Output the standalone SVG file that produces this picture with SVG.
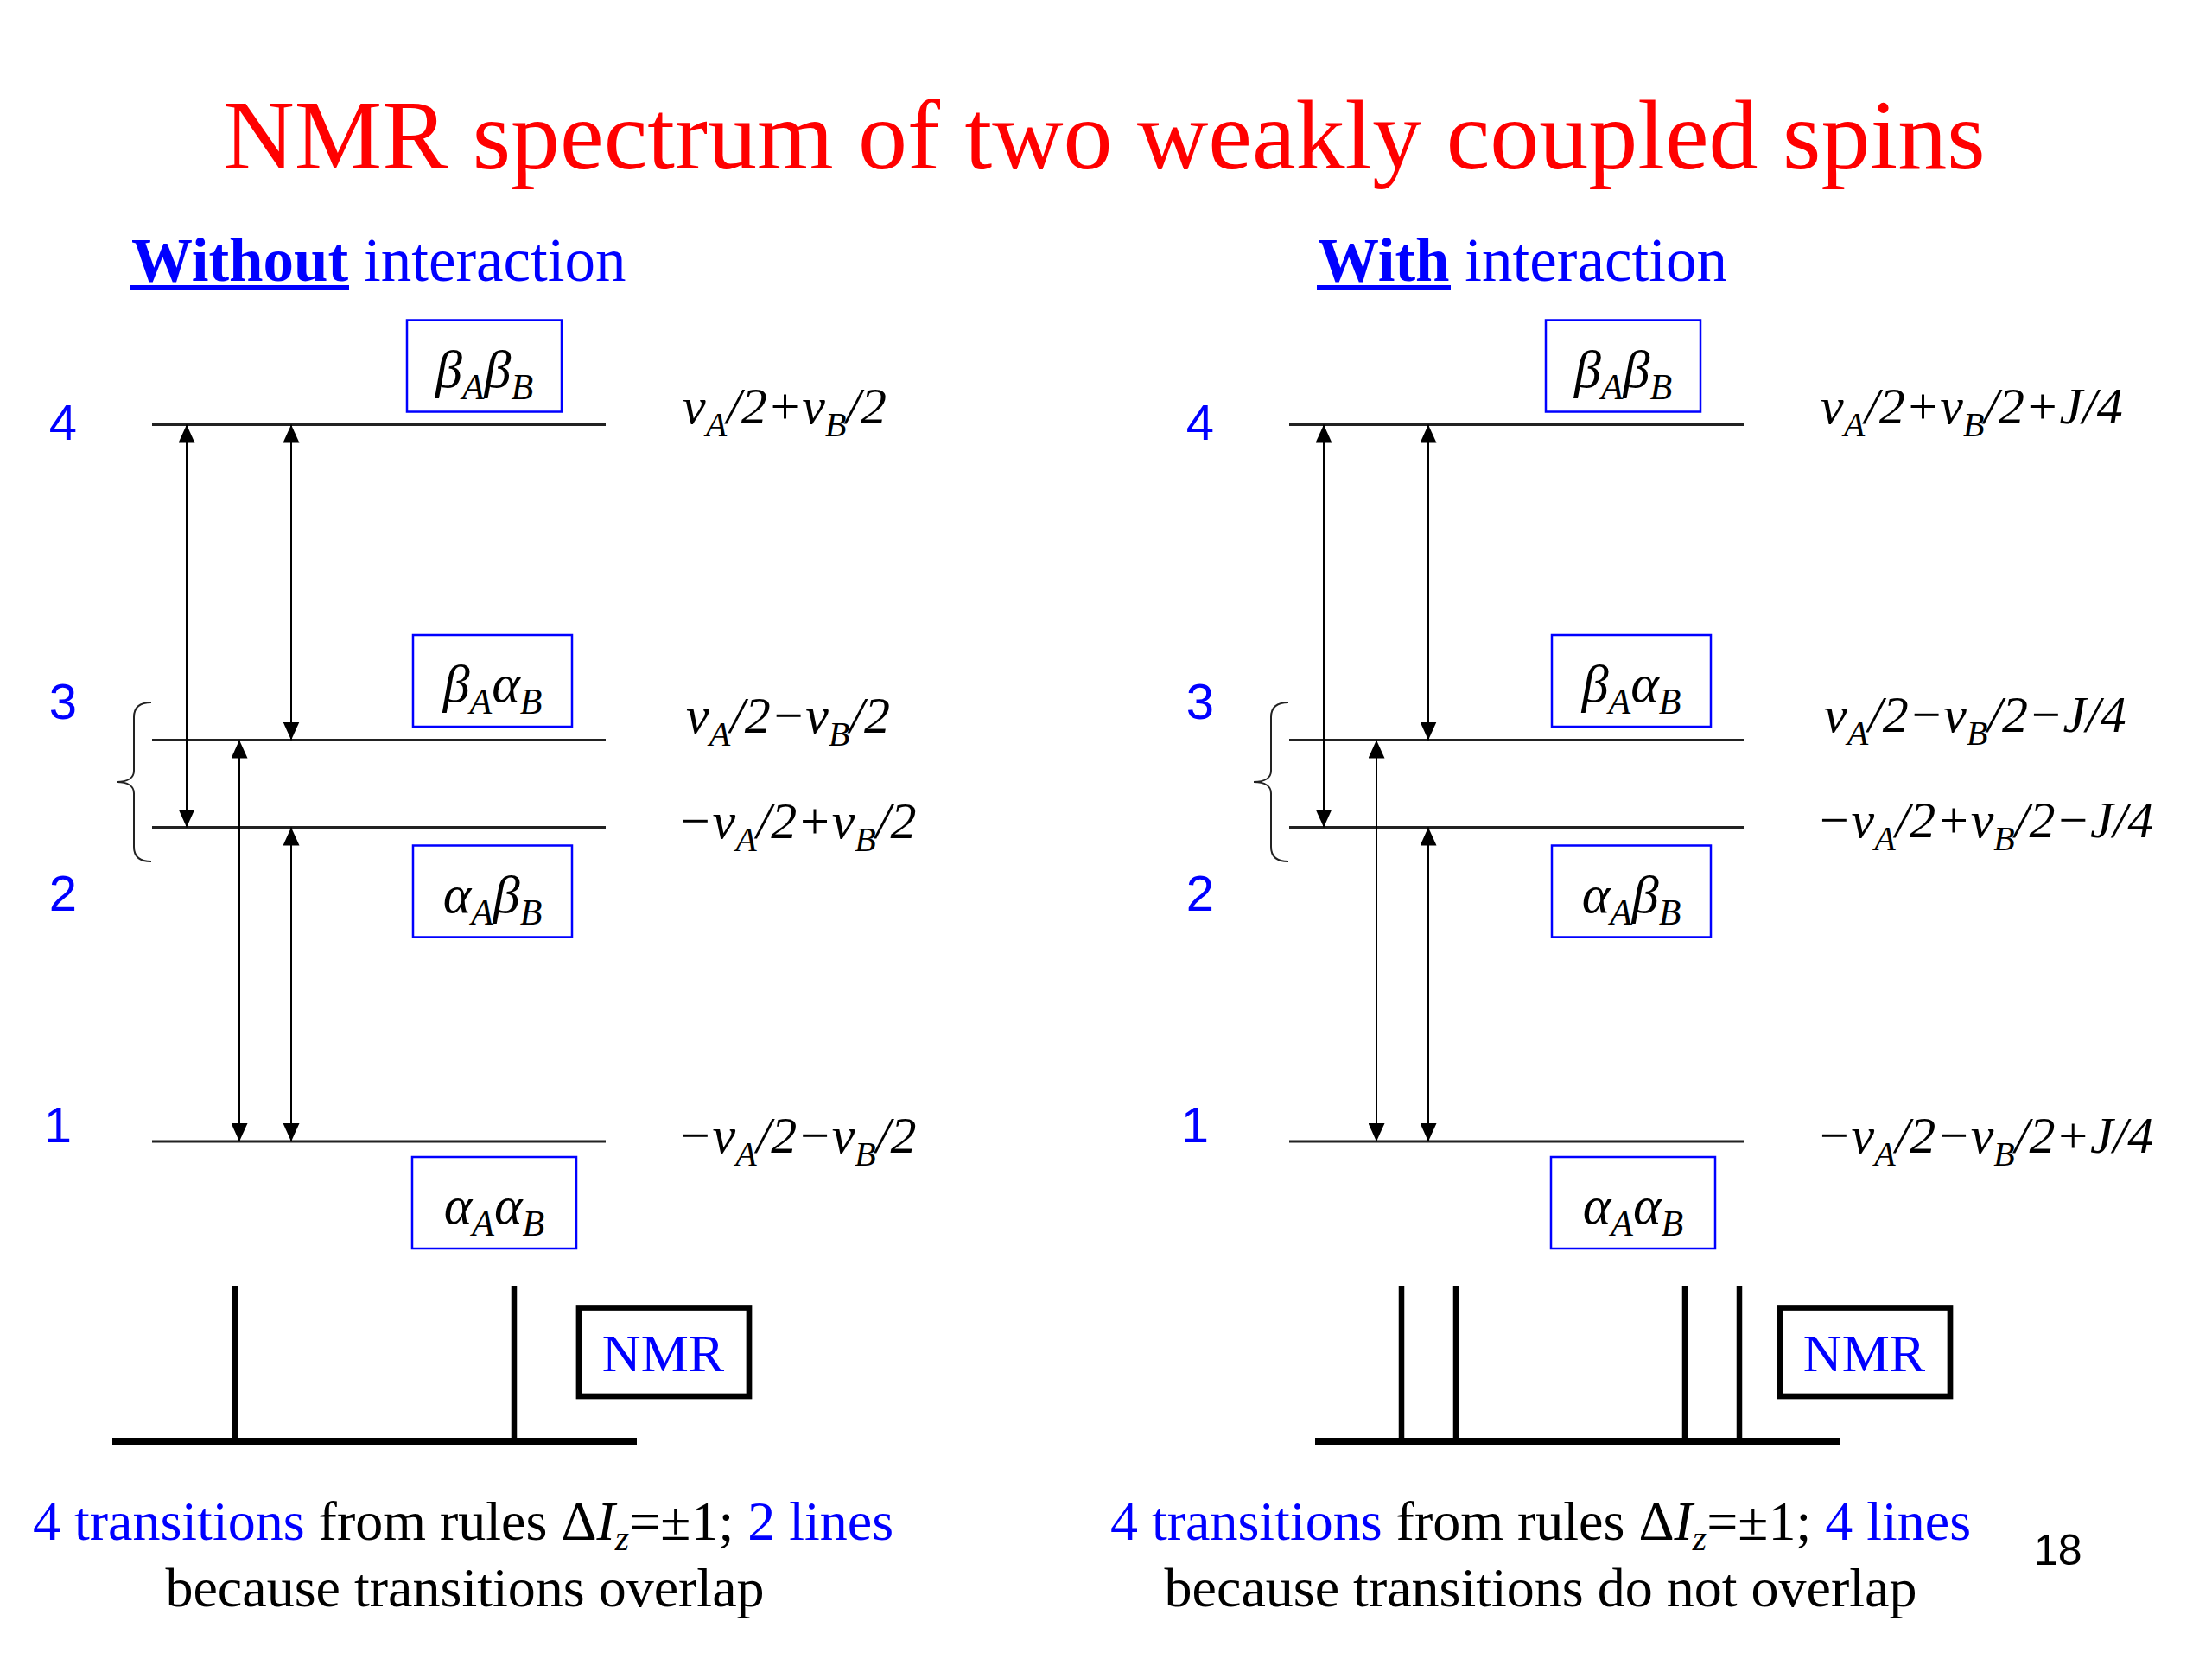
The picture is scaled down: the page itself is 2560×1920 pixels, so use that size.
<svg xmlns="http://www.w3.org/2000/svg" width="2560" height="1920" viewBox="0 0 2560 1920">
<style>
.serif{font-family:"Liberation Serif","Times New Roman",serif}
.sans{font-family:"Liberation Sans",Arial,sans-serif}
.blue{fill:#0000FF}
.black{fill:#000}
.lvl{stroke:#222;stroke-width:2.8}
.arr{stroke:#000;stroke-width:2;marker-start:url(#ah);marker-end:url(#ah)}
.box{fill:none;stroke:#0000FF;stroke-width:2.5}
.state{font-family:"Liberation Serif","Times New Roman",serif;font-style:italic;font-size:62px;text-anchor:middle;fill:#000}
.en{font-family:"Liberation Serif","Times New Roman",serif;font-style:italic;font-size:60px;fill:#000}
.s{font-size:40px}
.ss{font-size:42px}
.num{font-family:"Liberation Sans",Arial,sans-serif;font-size:58px;fill:#0000FF;text-anchor:middle}
.spec{stroke:#000}
.nmrbox{fill:none;stroke:#000;stroke-width:6.7}
.nmr{font-family:"Liberation Serif","Times New Roman",serif;font-size:62px;fill:#0000FF;text-anchor:middle}
.cap{font-family:"Liberation Serif","Times New Roman",serif;font-size:64px;text-anchor:middle;fill:#000}
.hdr{font-family:"Liberation Serif","Times New Roman",serif;font-size:71px;fill:#0000FF}
.brace{fill:none;stroke:#222;stroke-width:2}
</style>
<defs>
<marker id="ah" viewBox="0 0 21 19" refX="21" refY="9.5" markerWidth="21" markerHeight="19" markerUnits="userSpaceOnUse" orient="auto-start-reverse"><path d="M0,0L21,9.5L0,19Z" fill="#000"/></marker>
</defs>
<rect width="2560" height="1920" fill="#fff"/>

<g id="title"><text x="1278" y="195" class="serif" font-size="114" fill="#FF0000" text-anchor="middle">NMR spectrum of two weakly coupled spins</text></g>

<g id="header-left"><text x="152" y="325" class="hdr"><tspan font-weight="bold">Without</tspan> interaction</text><rect x="151" y="330" width="253" height="6" fill="#0000FF"/></g>
<g id="header-right"><text x="1525" y="325" class="hdr"><tspan font-weight="bold">With</tspan> interaction</text><rect x="1524" y="330" width="155" height="6" fill="#0000FF"/></g>

<g id="levels-left">
<line class="lvl" x1="176" y1="491.5" x2="701" y2="491.5"/>
<line class="lvl" x1="176" y1="856.5" x2="701" y2="856.5"/>
<line class="lvl" x1="176" y1="957.5" x2="701" y2="957.5"/>
<line class="lvl" x1="176" y1="1321" x2="701" y2="1321"/>
</g>
<g id="levels-right">
<line class="lvl" x1="1492" y1="491.5" x2="2018" y2="491.5"/>
<line class="lvl" x1="1492" y1="856.5" x2="2018" y2="856.5"/>
<line class="lvl" x1="1492" y1="957.5" x2="2018" y2="957.5"/>
<line class="lvl" x1="1492" y1="1321" x2="2018" y2="1321"/>
</g>

<g id="level-numbers">
<text class="num" x="73" y="509">4</text>
<text class="num" x="73" y="832">3</text>
<text class="num" x="73" y="1054">2</text>
<text class="num" x="67" y="1322">1</text>
<text class="num" x="1389" y="509">4</text>
<text class="num" x="1389" y="832">3</text>
<text class="num" x="1389" y="1054">2</text>
<text class="num" x="1383" y="1322">1</text>
</g>

<g id="state-bb-left"><rect class="box" x="471" y="370.5" width="179" height="106"/><text class="state" x="560.5" y="447.5">β<tspan class="ss" dy="14">A</tspan><tspan dy="-14">β</tspan><tspan class="ss" dy="14">B</tspan></text></g>
<g id="state-ba-left"><rect class="box" x="478" y="735" width="184" height="106"/><text class="state" x="570" y="812">β<tspan class="ss" dy="14">A</tspan><tspan dy="-14">α</tspan><tspan class="ss" dy="14">B</tspan></text></g>
<g id="state-ab-left"><rect class="box" x="478" y="978.5" width="184" height="106"/><text class="state" x="570" y="1055.5">α<tspan class="ss" dy="14">A</tspan><tspan dy="-14">β</tspan><tspan class="ss" dy="14">B</tspan></text></g>
<g id="state-aa-left"><rect class="box" x="477" y="1339" width="190" height="106"/><text class="state" x="572" y="1416">α<tspan class="ss" dy="14">A</tspan><tspan dy="-14">α</tspan><tspan class="ss" dy="14">B</tspan></text></g>

<g id="state-bb-right"><rect class="box" x="1789" y="370.5" width="179" height="106"/><text class="state" x="1878.5" y="447.5">β<tspan class="ss" dy="14">A</tspan><tspan dy="-14">β</tspan><tspan class="ss" dy="14">B</tspan></text></g>
<g id="state-ba-right"><rect class="box" x="1796" y="735" width="184" height="106"/><text class="state" x="1888" y="812">β<tspan class="ss" dy="14">A</tspan><tspan dy="-14">α</tspan><tspan class="ss" dy="14">B</tspan></text></g>
<g id="state-ab-right"><rect class="box" x="1796" y="978.5" width="184" height="106"/><text class="state" x="1888" y="1055.5">α<tspan class="ss" dy="14">A</tspan><tspan dy="-14">β</tspan><tspan class="ss" dy="14">B</tspan></text></g>
<g id="state-aa-right"><rect class="box" x="1795" y="1339" width="190" height="106"/><text class="state" x="1890" y="1416">α<tspan class="ss" dy="14">A</tspan><tspan dy="-14">α</tspan><tspan class="ss" dy="14">B</tspan></text></g>

<g id="energies-left">
<text class="en" x="790" y="490">ν<tspan class="s" dy="15">A</tspan><tspan dy="-15">/2+ν</tspan><tspan class="s" dy="15">B</tspan><tspan dy="-15">/2</tspan></text>
<text class="en" x="794" y="848">ν<tspan class="s" dy="15">A</tspan><tspan dy="-15">/2−ν</tspan><tspan class="s" dy="15">B</tspan><tspan dy="-15">/2</tspan></text>
<text class="en" x="784" y="970">−ν<tspan class="s" dy="15">A</tspan><tspan dy="-15">/2+ν</tspan><tspan class="s" dy="15">B</tspan><tspan dy="-15">/2</tspan></text>
<text class="en" x="784" y="1334">−ν<tspan class="s" dy="15">A</tspan><tspan dy="-15">/2−ν</tspan><tspan class="s" dy="15">B</tspan><tspan dy="-15">/2</tspan></text>
</g>
<g id="energies-right">
<text class="en" x="2107" y="490">ν<tspan class="s" dy="15">A</tspan><tspan dy="-15">/2+ν</tspan><tspan class="s" dy="15">B</tspan><tspan dy="-15">/2+J/4</tspan></text>
<text class="en" x="2111" y="847">ν<tspan class="s" dy="15">A</tspan><tspan dy="-15">/2−ν</tspan><tspan class="s" dy="15">B</tspan><tspan dy="-15">/2−J/4</tspan></text>
<text class="en" x="2102" y="969">−ν<tspan class="s" dy="15">A</tspan><tspan dy="-15">/2+ν</tspan><tspan class="s" dy="15">B</tspan><tspan dy="-15">/2−J/4</tspan></text>
<text class="en" x="2102" y="1334">−ν<tspan class="s" dy="15">A</tspan><tspan dy="-15">/2−ν</tspan><tspan class="s" dy="15">B</tspan><tspan dy="-15">/2+J/4</tspan></text>
</g>

<g id="braces">
<path class="brace" d="M175,813 C163,813 155,818 155,830 L155,892 C155,900 148,905 135,905 C148,905 155,910 155,918 L155,980 C155,992 163,997 175,997"/>
<path class="brace" d="M1491,813 C1479,813 1471,818 1471,830 L1471,892 C1471,900 1464,905 1451,905 C1464,905 1471,910 1471,918 L1471,980 C1471,992 1479,997 1491,997"/>
</g>

<g id="connectors">
<line class="arr" x1="216" y1="491.5" x2="216" y2="957.5"/>
<line class="arr" x1="337" y1="491.5" x2="337" y2="856.5"/>
<line class="arr" x1="277" y1="856.5" x2="277" y2="1321"/>
<line class="arr" x1="337" y1="957.5" x2="337" y2="1321"/>
<line class="arr" x1="1532" y1="491.5" x2="1532" y2="957.5"/>
<line class="arr" x1="1653" y1="491.5" x2="1653" y2="856.5"/>
<line class="arr" x1="1593" y1="856.5" x2="1593" y2="1321"/>
<line class="arr" x1="1653" y1="957.5" x2="1653" y2="1321"/>
</g>

<g id="spectrum-left">
<line class="spec" x1="130" y1="1668" x2="737" y2="1668" stroke-width="8"/>
<line class="spec" x1="272" y1="1488" x2="272" y2="1668" stroke-width="6.5"/>
<line class="spec" x1="595" y1="1488" x2="595" y2="1668" stroke-width="6.5"/>
</g>
<g id="nmr-left"><rect class="nmrbox" x="670" y="1513.5" width="197" height="102.5"/><text class="nmr" x="767.5" y="1587">NMR</text></g>

<g id="spectrum-right">
<line class="spec" x1="1522" y1="1668" x2="2129" y2="1668" stroke-width="8"/>
<line class="spec" x1="1622" y1="1488" x2="1622" y2="1668" stroke-width="6.5"/>
<line class="spec" x1="1685" y1="1488" x2="1685" y2="1668" stroke-width="6.5"/>
<line class="spec" x1="1950" y1="1488" x2="1950" y2="1668" stroke-width="6.5"/>
<line class="spec" x1="2013" y1="1488" x2="2013" y2="1668" stroke-width="6.5"/>
</g>
<g id="nmr-right"><rect class="nmrbox" x="2060" y="1513.5" width="197" height="102.5"/><text class="nmr" x="2157.5" y="1587">NMR</text></g>

<g id="caption-left">
<text class="cap" x="536" y="1782"><tspan class="blue">4 transitions</tspan> from rules Δ<tspan font-style="italic">I</tspan><tspan font-style="italic" font-size="42" dy="12">z</tspan><tspan dy="-12">=±1; </tspan><tspan class="blue">2 lines</tspan></text>
<text class="cap" x="538" y="1859">because transitions overlap</text>
</g>
<g id="caption-right">
<text class="cap" x="1783" y="1782"><tspan class="blue">4 transitions</tspan> from rules Δ<tspan font-style="italic">I</tspan><tspan font-style="italic" font-size="42" dy="12">z</tspan><tspan dy="-12">=±1; </tspan><tspan class="blue">4 lines</tspan></text>
<text class="cap" x="1783" y="1859">because transitions do not overlap</text>
</g>

<g id="page-number"><text class="sans" x="2354" y="1811" font-size="50" fill="#000">18</text></g>
</svg>
